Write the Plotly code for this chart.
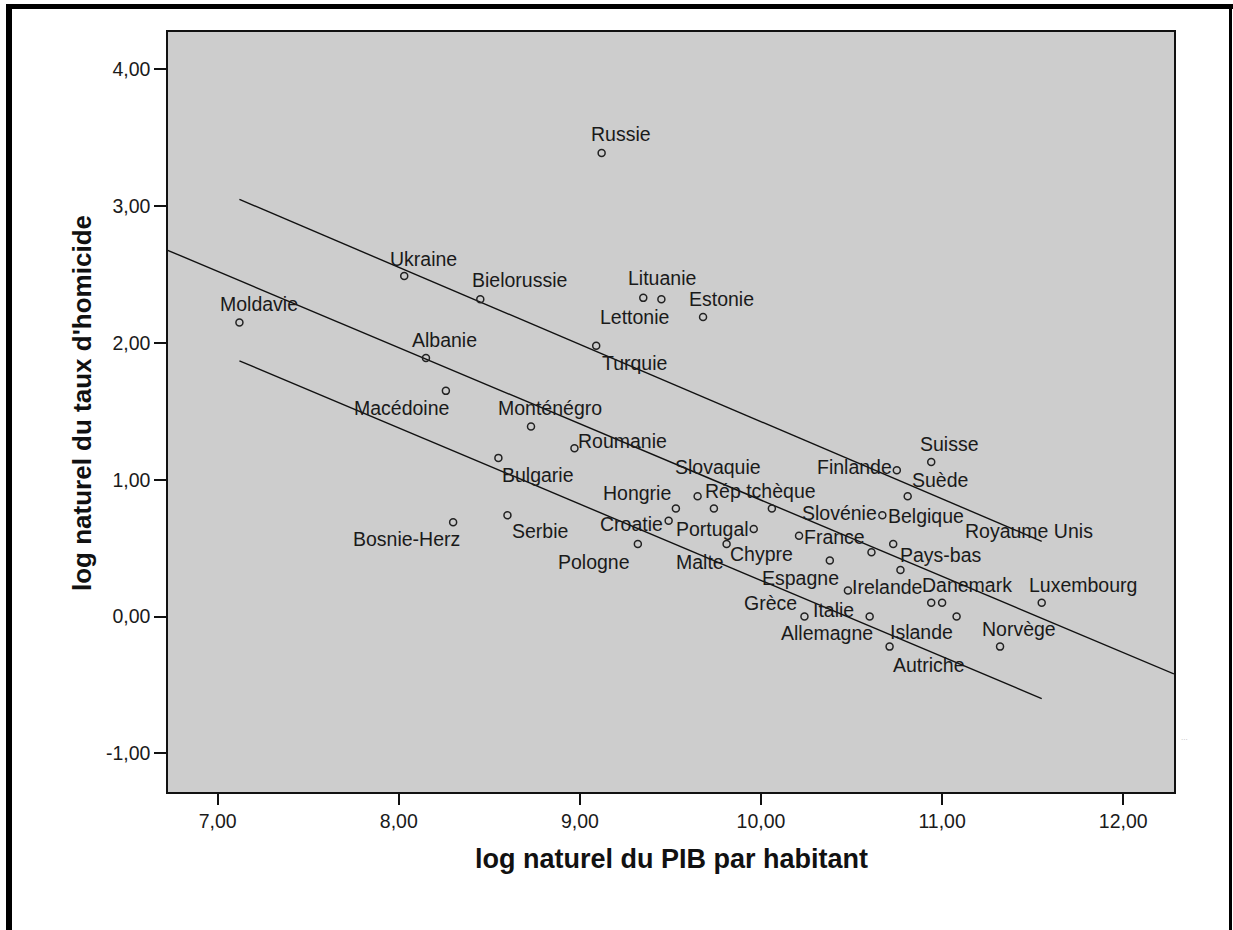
import plotly.graph_objects as go

countries = [
    "Russie", "Ukraine", "Bielorussie", "Lituanie", "Lettonie", "Estonie",
    "Moldavie", "Turquie", "Albanie", "Macédoine", "Monténégro", "Roumanie",
    "Bulgarie", "Serbie", "Bosnie-Herz", "Hongrie", "Slovaquie", "Rép tchèque",
    "Slovénie", "Croatie", "Portugal", "Pologne", "Malte", "Chypre", "France",
    "Espagne", "Pays-bas", "Royaume Unis", "Irelande", "Grèce", "Italie",
    "Allemagne", "Belgique", "Finlande", "Suisse", "Suède", "Danemark",
    "Autriche", "Islande", "Luxembourg", "Norvège",
]
log_pib = [
    9.12, 8.03, 8.45, 9.35, 9.45, 9.68,
    7.12, 9.09, 8.15, 8.26, 8.73, 8.97,
    8.55, 8.60, 8.30, 9.53, 9.65, 9.74,
    10.06, 9.49, 9.96, 9.32, 9.81, 10.21, 10.61,
    10.38, 10.73, 10.77, 10.48, 10.24, 10.60,
    10.71, 10.67, 10.75, 10.94, 10.81, 10.94,
    11.00, 11.08, 11.55, 11.32,
]
log_homicide = [
    3.39, 2.49, 2.32, 2.33, 2.32, 2.19,
    2.15, 1.98, 1.89, 1.65, 1.39, 1.23,
    1.16, 0.74, 0.69, 0.79, 0.88, 0.79,
    0.79, 0.70, 0.64, 0.53, 0.53, 0.59, 0.47,
    0.41, 0.53, 0.34, 0.19, 0.00, 0.00,
    -0.22, 0.74, 1.07, 1.13, 0.88, 0.10,
    0.10, 0.00, 0.10, -0.22,
]

# droite d'ajustement et bornes de l'intervalle
fit_x = [6.72, 12.28]
fit_y = [2.68, -0.42]
band_x = [7.12, 11.55]
upper_y = [3.05, 0.55]
lower_y = [1.87, -0.60]

x_ticks = [7, 8, 9, 10, 11, 12]
y_ticks = [-1, 0, 1, 2, 3, 4]

# décalage des étiquettes (px) : gauche du texte / centre vertical par rapport au point
label_offsets = {
    "Russie": (-10, -19), "Ukraine": (-13, -17), "Bielorussie": (-7, -19),
    "Lituanie": (-14, -20), "Lettonie": (-60, 18), "Estonie": (-13, -18),
    "Moldavie": (-18, -18), "Turquie": (7, 17), "Albanie": (-13, -18),
    "Macédoine": (-91, 17), "Monténégro": (-32, -18), "Roumanie": (5, -7),
    "Bulgarie": (5, 17), "Serbie": (6, 16), "Bosnie-Herz": (-99, 17),
    "Hongrie": (-72, -15), "Slovaquie": (-22, -29), "Rép tchèque": (-8, -17),
    "Slovénie": (31, 5), "Croatie": (-68, 3), "Portugal": (-77, 0),
    "Pologne": (-79, 18), "Malte": (-50, 18), "Chypre": (-68, 18),
    "France": (-66, -15), "Espagne": (-67, 18), "Pays-bas": (8, 11),
    "Royaume Unis": (66, -39), "Irelande": (5, -4), "Grèce": (-59, -14),
    "Italie": (-56, -7), "Allemagne": (-108, -14), "Belgique": (7, 1),
    "Finlande": (-79, -3), "Suisse": (-10, -18), "Suède": (5, -16),
    "Danemark": (-8, -18), "Autriche": (-48, 62), "Islande": (-66, 15),
    "Luxembourg": (-12, -18), "Norvège": (-17, -18),
}

FONT = "Arial, Liberation Sans, sans-serif"
W, H = 1233, 930
L, R, T, B = 168, 1174, 32, 792  # zone de tracé en px


def px_x(px):
    return (px - L) / (R - L)


def px_y(py):
    return (B - py) / (B - T)


def fr(v):
    return f"{v:.2f}".replace(".", ",")


fig = go.Figure()
line_style = dict(color="#111111", width=1.4)
fig.add_trace(go.Scatter(x=fit_x, y=fit_y, mode="lines", line=line_style, hoverinfo="skip"))
fig.add_trace(go.Scatter(x=band_x, y=upper_y, mode="lines", line=line_style, hoverinfo="skip"))
fig.add_trace(go.Scatter(x=band_x, y=lower_y, mode="lines", line=line_style, hoverinfo="skip"))
fig.add_trace(go.Scatter(
    x=log_pib, y=log_homicide, mode="markers", text=countries,
    marker=dict(symbol="circle-open", size=7, color="#222222", line=dict(width=1.5)),
))

annotations = []
for name, xv, yv in zip(countries, log_pib, log_homicide):
    dx, dy = label_offsets[name]
    annotations.append(dict(
        x=xv, y=yv, xref="x", yref="y", text=name, showarrow=False,
        xanchor="left", yanchor="middle", xshift=dx - 1, yshift=-dy,
        borderpad=0, borderwidth=0,
        font=dict(family=FONT, size=19.5, color="#1a1a1a"),
    ))

annotations.append(dict(
    x=px_x(671), y=px_y(859), xref="paper", yref="paper", showarrow=False,
    text="<b>log naturel du PIB par habitant</b>", xanchor="center", yanchor="middle",
    font=dict(family=FONT, size=27, color="#111111"),
))
annotations.append(dict(
    x=px_x(82), y=px_y(403), xref="paper", yref="paper", showarrow=False,
    text="<b>log naturel du taux d'homicide</b>", textangle=-90,
    xanchor="center", yanchor="middle",
    font=dict(family=FONT, size=26, color="#111111"),
))
annotations.append(dict(
    x=px_x(1190), y=px_y(744), xref="paper", yref="paper", showarrow=False,
    text="...", font=dict(family=FONT, size=8, color="#bbbbbb"),
))

# cadre noir autour de l'image
frame = [
    (6, 4, 12, H + 5),
    (6, 4, W + 5, 9),
    (1229, 4, 1232, H + 5),
]
shapes = [
    dict(type="rect", xref="paper", yref="paper",
         x0=px_x(a), y0=px_y(b), x1=px_x(c), y1=px_y(d),
         fillcolor="black", line=dict(width=0), layer="above")
    for a, b, c, d in frame
]

fig.update_layout(
    width=W, height=H,
    margin=dict(l=L, r=W - R, t=T, b=H - B),
    paper_bgcolor="white", plot_bgcolor="#cdcdcd",
    showlegend=False,
    annotations=annotations, shapes=shapes,
    font=dict(family=FONT, color="#1a1a1a"),
)
axis_common = dict(
    showline=True, linecolor="#111111", linewidth=1.5, mirror=True,
    ticks="outside", tickcolor="#111111", tickwidth=1.5,
    showgrid=False, zeroline=False,
    tickfont=dict(family=FONT, size=19.5, color="#1a1a1a"),
)
fig.update_xaxes(range=[6.7256, 12.2805], tickvals=x_ticks,
                 ticktext=[fr(v) for v in x_ticks], ticklen=11, **axis_common)
fig.update_yaxes(range=[-1.283, 4.274], tickvals=y_ticks,
                 ticktext=[fr(v) for v in y_ticks], ticklen=12, **axis_common)

fig.write_html(
    "out.html",
    config={"displayModeBar": False},
    post_script="document.body.style.margin='0';document.body.style.overflow='hidden';",
)
